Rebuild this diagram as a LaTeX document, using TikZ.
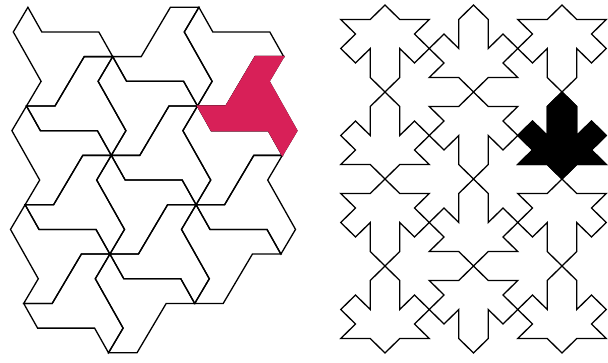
\documentclass[tikz,border=0pt]{standalone}
\definecolor{tilered}{RGB}{216,32,88}

\begin{document}
\begin{tikzpicture}[x=1pt,y=-1pt,
  edge/.style={line width=1.3pt,line join=miter},
  hilite/.style={fill=tilered,draw=tilered,line width=1.3pt}]
\useasboundingbox (0,0) rectangle (608,362);
\begin{scope}[shift={(197.5,106)},x={(28.5pt,0pt)},y={(14.6pt,24.68pt)}]
\foreach \p/\q in {-6/0,-4/-4,-2/-8,-4/2,-2/-2,0/-6,0/0,2/-4}
  \draw[edge,shift={(\p,\q)}] (0,0)--(1,0)--(1,2)--(2,2)--(2,1)--(4,-1)--(4,-2)--(3,-1)--(1,-1)--cycle;
\foreach \p/\q in {-8/4,-6/0,-4/-4,-4/2,-2/-2,0/-6,-2/4,0/0,2/-4}
  \draw[edge,shift={(\p,\q)}] (0,0)--(1,-1)--(3,-1)--(4,-2)--(3,-2)--(3,-4)--(2,-4)--(2,-3)--(0,-1)--cycle;
\filldraw[hilite] (0,0)--(1,0)--(1,2)--(2,2)--(2,1)--(4,-1)--(4,-2)--(3,-1)--(1,-1)--cycle;
\end{scope}
\begin{scope}[shift={(385,5)},x={(14.75pt,0pt)},y={(0pt,-14.5pt)}]
\foreach \c/\r in {0/0,2/0,1/1,0/2,2/2,1/3}
  \draw[edge,shift={(6*\c,6*\r)}] (0,0)--(1,1)--(3,1)--(2,2)--(3,3)--(2,4)--(1,3)--(1,5)--(0,6)--(-1,5)--(-1,3)--(-2,4)--(-3,3)--(-2,2)--(-3,1)--(-1,1)--cycle;
\foreach \c/\r in {1/0,0/1,2/1,1/2,0/3,2/3}
  \draw[edge,shift={(6*\c,6*\r)}] (0,0)--(1,1)--(1,3)--(2,2)--(3,3)--(2,4)--(3,5)--(1,5)--(0,6)--(-1,5)--(-3,5)--(-2,4)--(-3,3)--(-2,2)--(-1,3)--(-1,1)--cycle;
\filldraw[edge,fill=black,shift={(12,6)}] (0,0)--(1,1)--(1,3)--(2,2)--(3,3)--(2,4)--(3,5)--(1,5)--(0,6)--(-1,5)--(-3,5)--(-2,4)--(-3,3)--(-2,2)--(-1,3)--(-1,1)--cycle;
\end{scope}
\end{tikzpicture}
\end{document}
